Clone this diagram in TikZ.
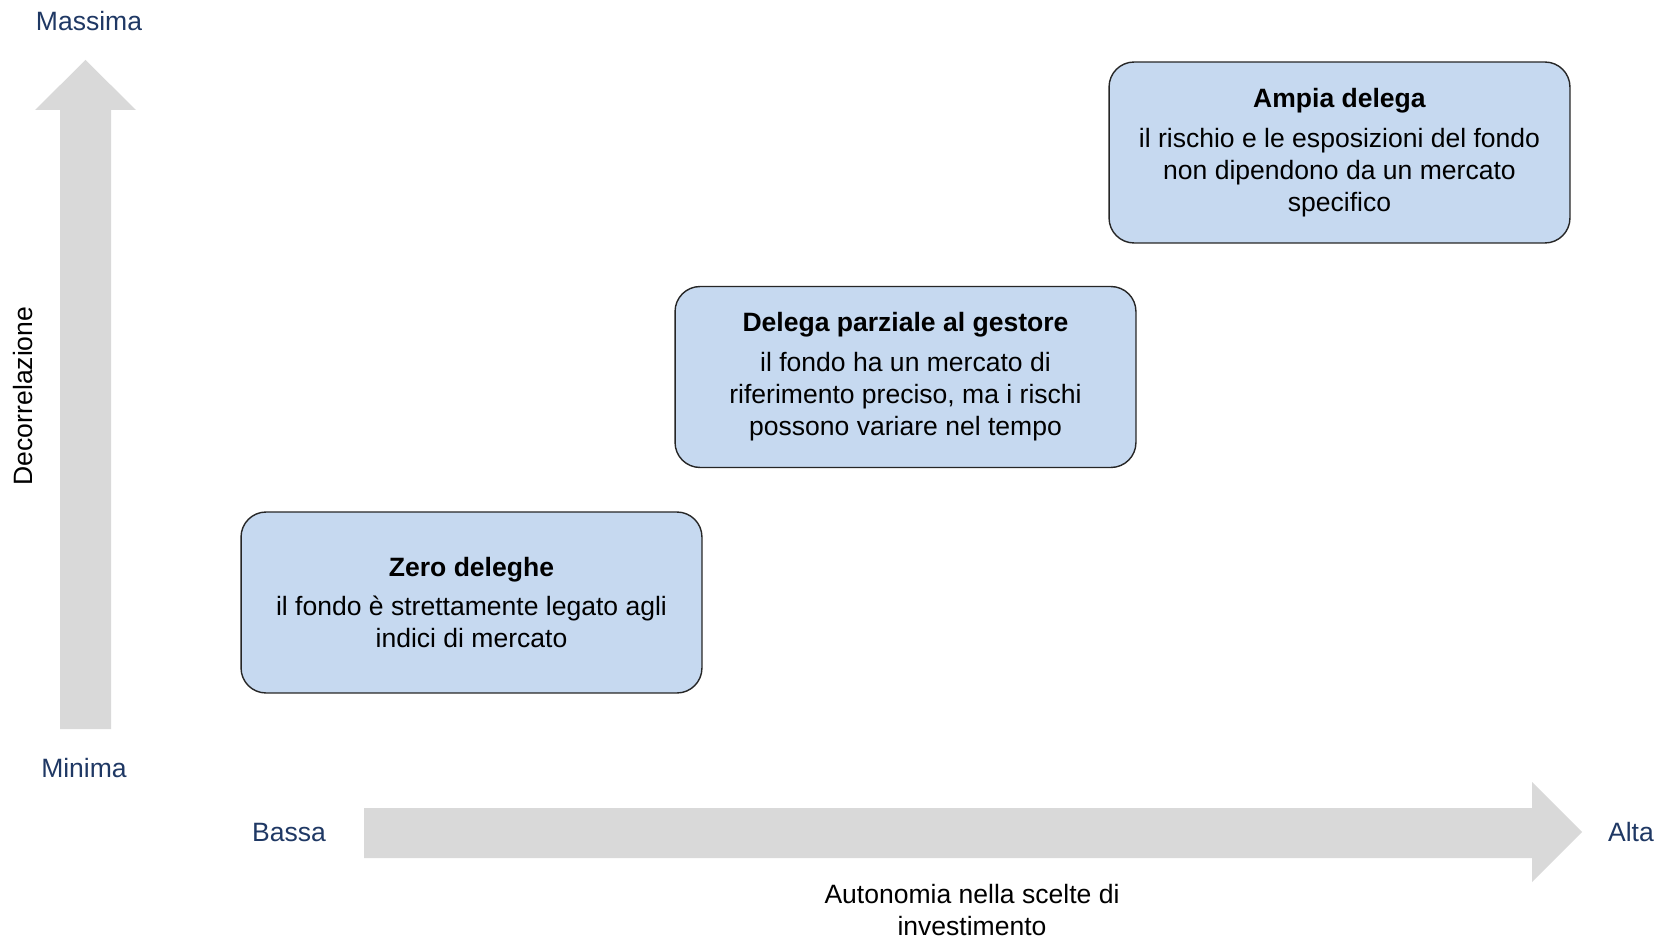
\documentclass[tikz,border=0pt]{standalone}
\usepackage{fontspec}
\setmainfont{Liberation Sans}
\usepackage{tikz}
\usetikzlibrary{positioning}
\definecolor{AxisBlue}{RGB}{31,56,100}
\definecolor{BoxBlue}{RGB}{198,217,240}
\definecolor{ArrowGray}{RGB}{217,217,217}

\begin{document}
\begin{tikzpicture}[x=0.02cm, y=-0.02cm,
    font=\fontsize{15.1}{18.2}\selectfont,
    stepbox/.style={rectangle, rounded corners=0.5cm, draw=black!85, line width=0.8pt,
        fill=BoxBlue, minimum width=9.22cm, minimum height=3.62cm, align=center},
    axislabel/.style={text=AxisBlue, inner sep=0pt},
    bigarrow/.style={fill=ArrowGray}]
    \useasboundingbox (0,0) rectangle (1670,939);

    % Frecce
    \fill[bigarrow] (60,729) -- (60,110) -- (35,110) -- (85.5,60) -- (136,110) -- (111,110) -- (111,729) -- cycle;
    \fill[bigarrow] (364,808) -- (1532,808) -- (1532,782) -- (1582,832) -- (1532,882) -- (1532,858) -- (364,858) -- cycle;

    % Etichette assi
    \node[axislabel] (massima) at (89,21) {Massima};
    \node[axislabel] (minima) at (84,768) {Minima};
    \node[axislabel] (bassa) at (289,832) {Bassa};
    \node[axislabel] (alta) at (1631,832) {Alta};
    \node[inner sep=0pt, rotate=90] (decorr) at (23,396) {Decorrelazione};
    \node[align=center, inner sep=0pt] (autonomia) at (972,910) {Autonomia nella scelte di\\investimento};

    % Nodi
    \node[stepbox] (zero) at (471.5,602.5) {\textbf{Zero deleghe}\\[0.16cm]
        il fondo è strettamente legato agli\\indici di mercato};
    \node[stepbox] (parziale) at (905.5,377) {\textbf{Delega parziale al gestore}\\[0.16cm]
        il fondo ha un mercato di\\riferimento preciso, ma i rischi\\possono variare nel tempo};
    \node[stepbox] (ampia) at (1339.5,152.5) {\textbf{Ampia delega}\\[0.16cm]
        il rischio e le esposizioni del fondo\\non dipendono da un mercato\\specifico};
\end{tikzpicture}
\end{document}
